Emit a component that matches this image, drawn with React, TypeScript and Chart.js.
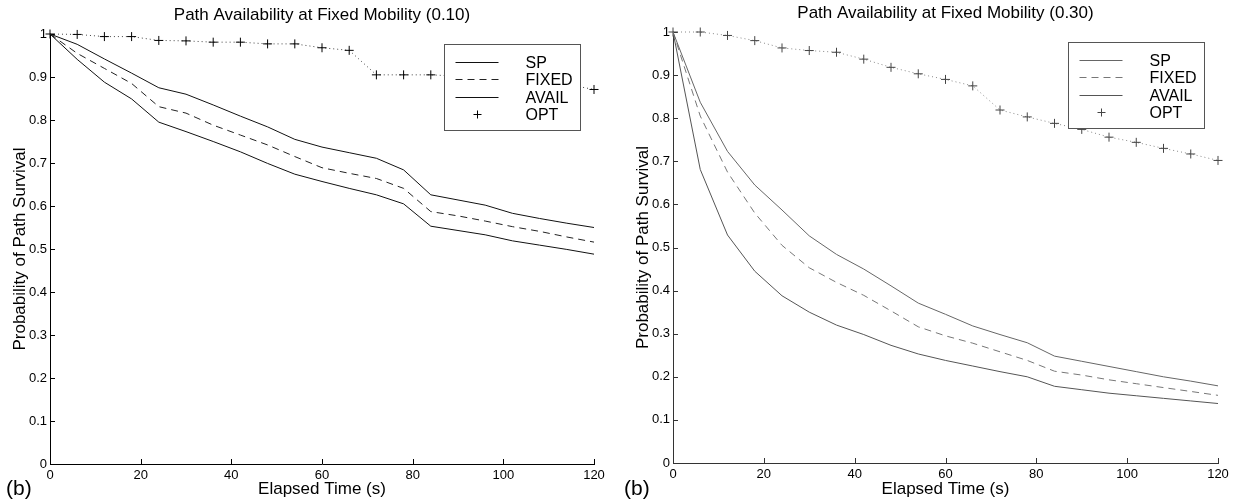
import React, { useEffect, useRef } from "react";
import { Chart, registerables } from "chart.js";

Chart.register(...registerables);

const TIME = [0, 6, 12, 18, 24, 30, 36, 42, 48, 54, 60, 66, 72, 78, 84, 90, 96, 102, 108, 114, 120];
const X_TICKS = [0, 20, 40, 60, 80, 100, 120];
const SERIES_NAMES = ["SP", "FIXED", "AVAIL", "OPT"];

const LEFT_TITLE = "Path Availability at Fixed Mobility (0.10)";
const LEFT_SP = [1.0, 0.976, 0.942, 0.909, 0.875, 0.86, 0.835, 0.809, 0.784, 0.755, 0.737, 0.724, 0.711, 0.684, 0.626, 0.614, 0.602, 0.583, 0.571, 0.56, 0.55];
const LEFT_FIXED = [1.0, 0.955, 0.92, 0.885, 0.831, 0.816, 0.788, 0.765, 0.742, 0.715, 0.689, 0.676, 0.664, 0.641, 0.587, 0.577, 0.565, 0.552, 0.541, 0.528, 0.516];
const LEFT_AVAIL = [1.0, 0.941, 0.888, 0.849, 0.795, 0.773, 0.75, 0.726, 0.699, 0.674, 0.657, 0.641, 0.626, 0.605, 0.553, 0.543, 0.533, 0.519, 0.509, 0.499, 0.488];
const LEFT_OPT = [1.0, 0.999, 0.994, 0.994, 0.985, 0.984, 0.981, 0.981, 0.977, 0.977, 0.968, 0.962, 0.905, 0.905, 0.905, 0.902, 0.898, 0.894, 0.889, 0.883, 0.871];

const RIGHT_TITLE = "Path Availability at Fixed Mobility (0.30)";
const RIGHT_SP = [1.0, 0.837, 0.723, 0.645, 0.587, 0.527, 0.484, 0.45, 0.411, 0.371, 0.345, 0.318, 0.298, 0.279, 0.248, 0.236, 0.224, 0.212, 0.2, 0.19, 0.179];
const RIGHT_FIXED = [1.0, 0.805, 0.675, 0.58, 0.505, 0.453, 0.419, 0.389, 0.353, 0.316, 0.295, 0.278, 0.258, 0.238, 0.213, 0.204, 0.193, 0.184, 0.175, 0.166, 0.157];
const RIGHT_AVAIL = [1.0, 0.681, 0.529, 0.445, 0.388, 0.35, 0.32, 0.298, 0.273, 0.253, 0.238, 0.225, 0.212, 0.2, 0.178, 0.17, 0.162, 0.156, 0.15, 0.144, 0.138];
const RIGHT_OPT = [1.0, 1.0, 0.992, 0.98, 0.963, 0.957, 0.953, 0.937, 0.918, 0.903, 0.89, 0.875, 0.819, 0.803, 0.788, 0.774, 0.756, 0.744, 0.73, 0.717, 0.702];

const X_LABEL = "Elapsed Time (s)";
const Y_LABEL = "Probability of Path Survival";
const PANEL_LABEL = "(b)";

const FONT = "'Liberation Sans', Arial, Helvetica, sans-serif";
const W = 618;
const H = 499;

type Scheme = {
  sp: string;
  fixed: string;
  avail: string;
  opt: string;
  optLine: string;
  axis: string;
  legendBorder: string;
};

const LEFT_SCHEME: Scheme = {
  sp: "#111",
  fixed: "#222",
  avail: "#111",
  opt: "#000",
  optLine: "#444",
  axis: "#000",
  legendBorder: "#555",
};
const RIGHT_SCHEME: Scheme = {
  sp: "#666",
  fixed: "#777",
  avail: "#555",
  opt: "#444",
  optLine: "#888",
  axis: "#333",
  legendBorder: "#555",
};

const toPts = (ys: number[]) => TIME.map((t, i) => ({ x: t, y: ys[i] }));

function makeConfig(
  title: string,
  sp: number[],
  fixed: number[],
  avail: number[],
  opt: number[],
  scheme: Scheme,
  layout: { yw: number; top: number; right: number; bottom: number; ylabX: number }
): any {
  const dashFixed = [7, 5];
  const decor = {
    id: "decor",
    beforeDatasetsDraw(chart: any) {
      const ctx = chart.ctx;
      const ca = chart.chartArea;
      const xs = chart.scales.x;
      const ys = chart.scales.y;
      ctx.save();
      ctx.strokeStyle = scheme.axis;
      ctx.lineWidth = 1;
      ctx.beginPath();
      xs.ticks.forEach((tk: any) => {
        const px = Math.round(xs.getPixelForValue(tk.value)) + 0.5;
        ctx.moveTo(px, ca.bottom);
        ctx.lineTo(px, ca.bottom - 5);
      });
      ys.ticks.forEach((tk: any) => {
        const py = Math.round(ys.getPixelForValue(tk.value)) + 0.5;
        ctx.moveTo(ca.left, py);
        ctx.lineTo(ca.left + 5, py);
      });
      ctx.stroke();
      ctx.restore();
    },
    afterDatasetsDraw(chart: any) {
      const ctx = chart.ctx;
      const ca = chart.chartArea;
      ctx.save();
      // legend box
      const lx = Math.round(ca.right - 150) + 0.5;
      const ly = Math.round(ca.top + 10) + 0.5;
      const lw = 136;
      const lh = 86;
      ctx.fillStyle = "#fff";
      ctx.fillRect(lx, ly, lw, lh);
      ctx.strokeStyle = scheme.legendBorder;
      ctx.lineWidth = 1;
      ctx.strokeRect(lx, ly, lw, lh);
      const rows = [17, 34.5, 52, 69.5];
      const colors = [scheme.sp, scheme.fixed, scheme.avail, scheme.opt];
      const s0 = lx + 11;
      const s1 = lx + 54;
      rows.forEach((ry, i) => {
        const y = Math.round(ly + ry) + 0.5;
        ctx.strokeStyle = colors[i];
        ctx.lineWidth = 1;
        if (i < 3) {
          ctx.setLineDash(i === 1 ? dashFixed : []);
          ctx.beginPath();
          ctx.moveTo(s0, y);
          ctx.lineTo(s1, y);
          ctx.stroke();
          ctx.setLineDash([]);
        } else {
          const cx = Math.round((s0 + s1) / 2) + 0.5;
          ctx.beginPath();
          ctx.moveTo(cx - 4, y);
          ctx.lineTo(cx + 4, y);
          ctx.moveTo(cx, y - 4);
          ctx.lineTo(cx, y + 4);
          ctx.stroke();
        }
        ctx.fillStyle = "#000";
        ctx.font = `16px ${FONT}`;
        ctx.textAlign = "left";
        ctx.textBaseline = "middle";
        ctx.fillText(SERIES_NAMES[i], lx + 81, y + 1);
      });
      ctx.restore();
    },
    afterDraw(chart: any) {
      const ctx = chart.ctx;
      const ca = chart.chartArea;
      const cx = (ca.left + ca.right) / 2;
      ctx.save();
      ctx.fillStyle = "#000";
      ctx.textBaseline = "middle";
      ctx.textAlign = "center";
      ctx.font = `17px ${FONT}`;
      ctx.fillText(title, cx, ca.top - 19);
      ctx.fillText(X_LABEL, cx, 489);
      ctx.font = `21px ${FONT}`;
      ctx.textAlign = "left";
      ctx.fillText(PANEL_LABEL, 6, 489);
      ctx.translate(layout.ylabX, (ca.top + ca.bottom) / 2);
      ctx.rotate(-Math.PI / 2);
      ctx.textAlign = "center";
      ctx.font = `17px ${FONT}`;
      ctx.fillText(Y_LABEL, 0, 0);
      ctx.restore();
    },
  };

  return {
    type: "scatter",
    data: {
      datasets: [
        {
          label: SERIES_NAMES[0],
          data: toPts(sp),
          showLine: true,
          borderColor: scheme.sp,
          borderWidth: 1,
          pointRadius: 0,
          tension: 0,
        },
        {
          label: SERIES_NAMES[1],
          data: toPts(fixed),
          showLine: true,
          borderColor: scheme.fixed,
          borderWidth: 1,
          borderDash: dashFixed,
          pointRadius: 0,
          tension: 0,
        },
        {
          label: SERIES_NAMES[2],
          data: toPts(avail),
          showLine: true,
          borderColor: scheme.avail,
          borderWidth: 1,
          pointRadius: 0,
          tension: 0,
        },
        {
          label: SERIES_NAMES[3],
          data: toPts(opt),
          showLine: true,
          borderColor: scheme.optLine,
          borderWidth: 1,
          borderDash: [1, 3],
          pointStyle: "cross",
          pointRadius: 4.5,
          pointBorderColor: scheme.opt,
          pointBorderWidth: 1,
          pointBackgroundColor: scheme.opt,
          tension: 0,
          clip: false,
        },
      ],
    },
    options: {
      responsive: false,
      animation: false,
      devicePixelRatio: 1,
      layout: { padding: { left: 0, top: layout.top, right: layout.right, bottom: 0 } },
      plugins: {
        legend: { display: false },
        title: { display: false },
        tooltip: { enabled: false },
      },
      scales: {
        x: {
          type: "linear",
          min: 0,
          max: 120,
          afterBuildTicks: (s: any) => {
            s.ticks = X_TICKS.map((v) => ({ value: v }));
          },
          ticks: {
            color: "#000",
            font: { size: 13, family: FONT },
            padding: 4,
            maxRotation: 0,
            autoSkip: false,
          },
          grid: { display: false, drawTicks: false },
          border: { display: true, color: scheme.axis, width: 1 },
          afterFit: (s: any) => {
            s.height = layout.bottom;
          },
        },
        y: {
          min: 0,
          max: 1,
          ticks: {
            stepSize: 0.1,
            color: "#000",
            font: { size: 13, family: FONT },
            padding: 3,
            callback: (v: any) => String(Math.round(v * 10) / 10),
          },
          grid: { display: false, drawTicks: false },
          border: { display: true, color: scheme.axis, width: 1 },
          afterFit: (s: any) => {
            s.width = layout.yw;
          },
        },
      },
    },
    plugins: [decor],
  };
}

function ChartPanel({ config, left }: { config: any; left: number }) {
  const ref = useRef<HTMLCanvasElement | null>(null);
  useEffect(() => {
    if (!ref.current) return;
    const chart = new Chart(ref.current, config);
    return () => chart.destroy();
  }, [config]);
  return (
    <canvas
      ref={ref}
      width={W}
      height={H}
      style={{ position: "absolute", left, top: 0, width: W, height: H, display: "block" }}
    />
  );
}

const LEFT_CONFIG = makeConfig(LEFT_TITLE, LEFT_SP, LEFT_FIXED, LEFT_AVAIL, LEFT_OPT, LEFT_SCHEME, {
  yw: 50,
  top: 34,
  right: 24,
  bottom: 35,
  ylabX: 20,
});
const RIGHT_CONFIG = makeConfig(RIGHT_TITLE, RIGHT_SP, RIGHT_FIXED, RIGHT_AVAIL, RIGHT_OPT, RIGHT_SCHEME, {
  yw: 55,
  top: 32,
  right: 18,
  bottom: 36,
  ylabX: 25,
});

export default function App() {
  return (
    <div style={{ position: "absolute", left: 0, top: 0, width: 1236, height: 499, background: "#fff", overflow: "hidden" }}>
      <ChartPanel config={LEFT_CONFIG} left={0} />
      <ChartPanel config={RIGHT_CONFIG} left={618} />
    </div>
  );
}
